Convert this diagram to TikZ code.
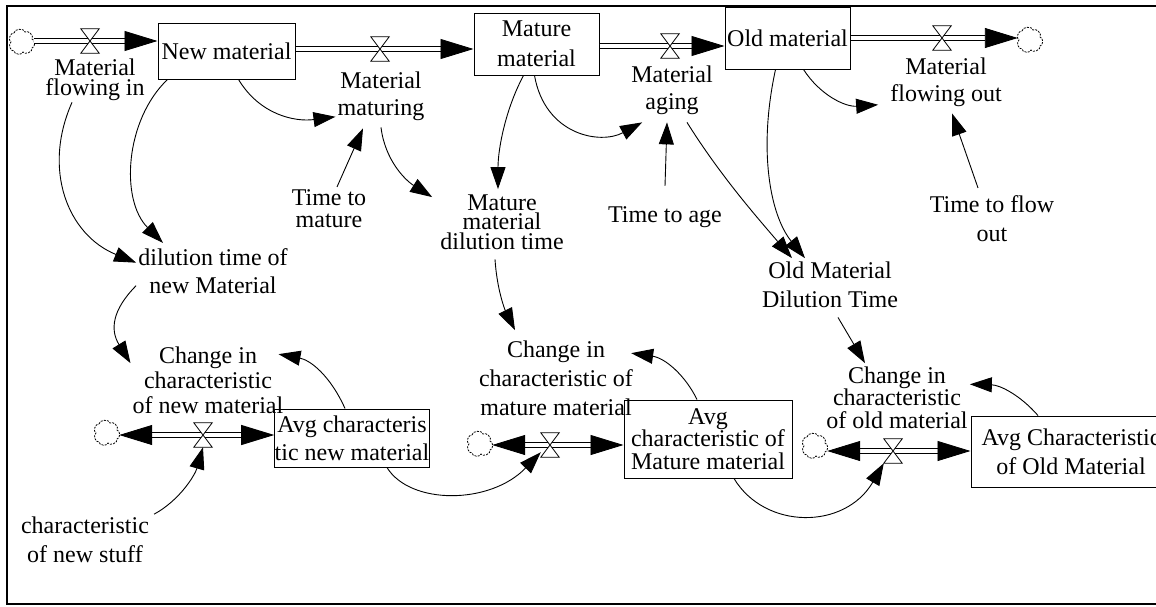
\documentclass[tikz,border=0pt]{standalone}
\usepackage{fontspec}
\setmainfont{Liberation Serif}
\usetikzlibrary{arrows.meta}
\begin{document}
\begin{tikzpicture}[x=1pt,y=-1pt,
 font=\fontsize{24}{24}\selectfont,
 lbl/.style={align=center, inner sep=2pt, anchor=base},
 ls/.style={font=\fontsize{24}{#1}\selectfont},
 stock/.style={draw, line width=1pt, inner sep=0pt, align=center},
 cloudnode/.style={minimum width=24pt, minimum height=22pt, inner sep=0pt},
 cloudline/.style={draw, dash pattern=on 2pt off 1.2pt, line width=0.8pt},
 valvebox/.style={minimum width=18pt, minimum height=24pt, inner sep=0pt},
 valveline/.style={draw, fill=white, line width=0.8pt},
 pipe/.style={draw, line width=0.9pt, double, double distance=4.5pt},
 ftip/.tip={Triangle[length=33pt,width=20pt]},
 link/.style={draw, line width=0.9pt, -{Triangle[length=22pt,width=15pt]}},
 frame/.style={draw, line width=1.8pt}
]
\useasboundingbox (0,0) rectangle (1156,606);
\draw[frame] (1160,6) -- (7,6) -- (7,604) -- (1160,604);

% stocks
\node[stock, minimum width=137pt, minimum height=56pt] (nm) at (226.5,51) {New material};
\node[stock, minimum width=125pt, minimum height=62pt, ls=30] (mm) at (536.5,44) {Mature\\material};
\node[stock, minimum width=125pt, minimum height=62pt] (om) at (787.5,38) {Old material};
\node[stock, minimum width=152pt, minimum height=58pt, ls=28] (an) at (352,438) {Avg characteris\\tic new material};
\node[stock, minimum width=168pt, minimum height=78pt, ls=22.5] (am) at (708,439) {Avg\\characteristic of\\Mature material};
\node[stock, minimum width=200pt, minimum height=71pt, ls=29] (ao) at (1071,451.5) {Avg Characteristic\\of Old Material};

% clouds
\node[cloudnode] (c1) at (22,42) {};
\node[cloudnode] (c2) at (1030,40) {};
\node[cloudnode] (c3) at (107,433) {};
\node[cloudnode] (c4) at (480,444) {};
\node[cloudnode] (c5) at (815,446) {};
\foreach \c in {c1,c2,c3,c4,c5}
  \draw[cloudline] ([shift={(-8,-9)}]\c.center) to[bend left=85] ([shift={(3,-10)}]\c.center)
    to[bend left=85] ([shift={(10,-3)}]\c.center) to[bend left=85] ([shift={(10,6)}]\c.center)
    to[bend left=85] ([shift={(1,10)}]\c.center) to[bend left=85] ([shift={(-8,9)}]\c.center)
    to[bend left=85] ([shift={(-11,0)}]\c.center)
    to[bend left=85] ([shift={(-8,-9)}]\c.center);

% valves
\node[valvebox] (v1) at (90,41) {};
\node[valvebox] (v2) at (380,49) {};
\node[valvebox] (v3) at (670,46) {};
\node[valvebox] (v4) at (942,38) {};
\node[valvebox] (v5) at (203,435) {};
\node[valvebox] (v6) at (550,445) {};
\node[valvebox] (v7) at (893,451) {};

% labels
\node[lbl, ls=20] (mfi) at (95,95) {Material\\flowing in};
\node[lbl, ls=27] (mmat) at (381,115) {Material\\maturing};
\node[lbl, ls=27] (mag) at (672,109) {Material\\aging};
\node[lbl, ls=27] (mfo) at (946,101) {Material\\flowing out};
\node[lbl, ls=22] (ttm) at (329,227) {Time to\\mature};
\node[lbl, ls=19.5] (mmdt) at (502,249) {Mature\\material\\dilution time};
\node[lbl] (tta) at (665,222) {Time to age};
\node[lbl, ls=29] (ttfo) at (992,241) {Time to flow\\out};
\node[lbl, ls=29] (omdt) at (830,307) {Old Material\\Dilution Time};
\node[lbl, ls=28] (dtn) at (213,293) {dilution time of\\new Material};
\node[lbl, ls=25] (cin) at (208,413) {Change in\\characteristic\\of new material};
\node[lbl, ls=29] (cns) at (85,562) {characteristic\\of new stuff};
\node[lbl, ls=29] (cim) at (556,415) {Change in\\characteristic of\\mature material};
\node[lbl, ls=22.5] (cio) at (897,428) {Change in\\characteristic\\of old material};

% pipes
\draw[pipe, -ftip] (c1.east |- v1) -- (nm.west |- v1);
\draw[pipe, -ftip] (nm.east |- v2) -- (mm.west |- v2);
\draw[pipe, -ftip] (mm.east |- v3) -- (om.west |- v3);
\draw[pipe, -ftip] (om.east |- v4) -- (c2.west |- v4);
\draw[pipe, ftip-ftip] (c3.east |- v5) -- (an.west |- v5);
\draw[pipe, ftip-ftip] (c4.east |- v6) -- (am.west |- v6);
\draw[pipe, ftip-ftip] (c5.east |- v7) -- (ao.west |- v7);
\foreach \v in {v1,v2,v3,v4,v5,v6,v7}
  \draw[valveline] (\v.north west) -- (\v.north east) -- (\v.south west) -- (\v.south east) -- cycle;

% connectors
\draw[link] ([xshift=-23pt]mfi.south) .. controls (42,170) and (68,235) .. ([yshift=8pt]dtn.west);
\draw[link] ([xshift=10pt]nm.south west) .. controls (125,120) and (120,200) .. ([xshift=-50pt,yshift=3pt]dtn.north);
\draw[link] ([xshift=-57pt]nm.south east) .. controls (260,115) and (295,122) .. ([yshift=-21pt]mmat.west);
\draw[link] ([xshift=8pt]ttm.north) -- ([xshift=-18pt,yshift=-6pt]mmat.south);
\draw[link] ([yshift=-5pt]mmat.south) .. controls (385,160) and (405,180) .. ([xshift=-6pt,yshift=-5pt]mmdt.north west);
\draw[link] ([xshift=-13pt]mm.south) .. controls (505,110) and (498,150) .. ([xshift=-4pt,yshift=3pt]mmdt.north);
\draw[link] ([xshift=-2pt]mm.south) .. controls (545,135) and (600,145) .. ([xshift=13pt,yshift=-6pt]mag.south west);
\draw[link] ([yshift=18pt]tta.north) -- ([xshift=-5pt,yshift=-6pt]mag.south);
\draw[link] ([xshift=15pt,yshift=-6pt]mag.south) .. controls (720,175) and (755,215) .. ([xshift=-38pt,yshift=1pt]omdt.north);
\draw[link] ([xshift=-12pt]om.south) .. controls (758,150) and (770,215) .. ([xshift=-25pt,yshift=1pt]omdt.north);
\draw[link] ([xshift=16pt]om.south) .. controls (820,95) and (845,107) .. ([xshift=-10pt,yshift=-23pt]mfo.west);
\draw[link] ([xshift=-14pt,yshift=5pt]ttfo.north) -- ([xshift=6pt,yshift=-5pt]mfo.south);
\draw[link] ([yshift=-15pt]dtn.west) .. controls (112,310) and (110,330) .. ([yshift=-19pt]cin.north west);
\draw[link] ([xshift=-7pt,yshift=-8pt]mmdt.south) .. controls (497,290) and (505,310) .. ([xshift=-41pt,yshift=8pt]cim.north);
\draw[link] ([xshift=8pt,yshift=-8pt]omdt.south) -- ([xshift=-32pt,yshift=1pt]cio.north);
\draw[link] ([xshift=-7pt]an.north) .. controls (330,375) and (310,360) .. ([xshift=-7pt,yshift=-10pt]cin.north east);
\draw[link] ([xshift=3pt]cns.north east) .. controls (180,500) and (195,475) .. (v5.south);
\draw[link] ([xshift=35pt]an.south) .. controls (410,505) and (490,505) .. ([yshift=5pt]v6.south west);
\draw[link] ([xshift=-11pt]am.north) .. controls (685,375) and (665,358) .. ([xshift=-4pt,yshift=-15pt]cim.north east);
\draw[link] ([xshift=26pt]am.south) .. controls (765,530) and (845,530) .. (v7.south west);
\draw[link] ([xshift=-33pt]ao.north) .. controls (1020,395) and (1000,385) .. ([yshift=13pt]cio.east);
\end{tikzpicture}
\end{document}
